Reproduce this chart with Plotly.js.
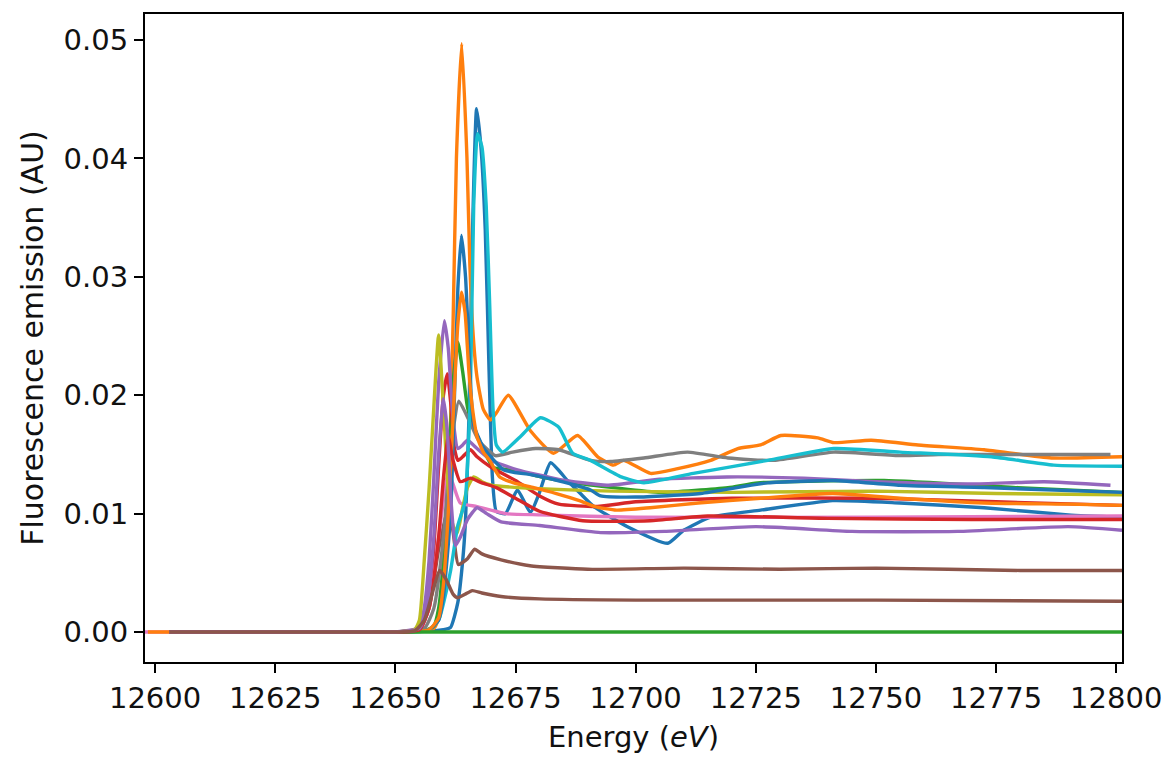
<!DOCTYPE html>
<html>
<head>
<meta charset="utf-8">
<script src="https://cdn.plot.ly/plotly-3.0.1.min.js"></script>
<style>html,body{margin:0;padding:0;background:#fff;}#chart{width:1165px;height:758px;}</style>
</head>
<body>
<div id="chart"></div>
<script>
// Series (draw order follows matplotlib tab10 cycle)
const blueA_E = [12603, 12630, 12645, 12650, 12658, 12660, 12661.5, 12663, 12664, 12664.6, 12665.3, 12666, 12666.9, 12667.8, 12668.7, 12669.5, 12670.2, 12671, 12672.9, 12675.4, 12678.1, 12680, 12682.3, 12685.8, 12688.5, 12691.3, 12698.3, 12706.7, 12710, 12715.6, 12726, 12741, 12755, 12772.5, 12790, 12801.2];
const blueA_V = [0, 0, 0, 0, 0.0001, 0.0002, 0.0004, 0.0025, 0.006, 0.0095, 0.018, 0.033, 0.0442, 0.041, 0.034, 0.022, 0.013, 0.0102, 0.0100, 0.0120, 0.0101, 0.0118, 0.0143, 0.0128, 0.0117, 0.0106, 0.0089, 0.0075, 0.0086, 0.0097, 0.0103, 0.0111, 0.0109, 0.0105, 0.0099, 0.0097];

const orangeA_E = [12603, 12630, 12645, 12650, 12658, 12659, 12660, 12661, 12662, 12662.7, 12663.8, 12664.9, 12665.5, 12666.2, 12667, 12668.3, 12669.8, 12671, 12673.5, 12678.1, 12682.9, 12687.9, 12692.1, 12695.4, 12697.5, 12703.1, 12708.75, 12715.6, 12721.25, 12726, 12730.2, 12737.9, 12741.25, 12749, 12758.75, 12772.5, 12786.5, 12801.2];
const orangeA_V = [0, 0, 0, 0, 0.0003, 0.0012, 0.004, 0.011, 0.026, 0.040, 0.0497, 0.040, 0.031, 0.025, 0.0215, 0.0188, 0.0179, 0.0185, 0.0200, 0.0170, 0.0151, 0.0166, 0.0148, 0.0141, 0.0145, 0.0134, 0.0138, 0.0145, 0.0155, 0.0158, 0.0166, 0.0164, 0.0160, 0.0162, 0.0158, 0.0154, 0.0147, 0.0148];

const greenA_E = [12603, 12630, 12645, 12650, 12656, 12658, 12659, 12660, 12661, 12662, 12663, 12664, 12665, 12666, 12667.1, 12670.4, 12674.6, 12680.2, 12687.1, 12695.4, 12705.2, 12719.2, 12725.4, 12751.7, 12779.6, 12801.2];
const greenA_V = [0, 0, 0, 0, 0.0001, 0.0005, 0.002, 0.006, 0.013, 0.021, 0.0245, 0.022, 0.019, 0.0175, 0.0165, 0.0139, 0.0137, 0.0131, 0.0126, 0.0122, 0.0118, 0.0122, 0.0126, 0.0128, 0.0122, 0.0118];

const redA_E = [12603, 12630, 12645, 12650, 12655, 12656, 12657, 12658, 12659, 12660, 12660.8, 12661.6, 12662.3, 12663, 12664, 12665.6, 12667, 12670, 12675, 12680, 12684, 12692, 12700, 12720, 12750, 12775, 12801.2];
const redA_V = [0, 0, 0, 0, 0.0002, 0.001, 0.003, 0.007, 0.014, 0.020, 0.0218, 0.019, 0.0155, 0.0145, 0.0148, 0.0154, 0.0148, 0.0139, 0.0128, 0.0115, 0.0108, 0.0106, 0.0110, 0.0113, 0.0113, 0.0110, 0.0107];

const purpleA_E = [12603, 12630, 12645, 12650, 12655, 12656, 12657, 12658, 12659, 12660.2, 12661, 12662, 12663, 12664, 12665, 12667, 12670, 12675.4, 12684, 12694, 12705, 12719, 12735, 12750, 12770, 12785, 12798.8];
const purpleA_V = [0, 0, 0, 0, 0.0004, 0.002, 0.006, 0.013, 0.021, 0.0263, 0.024, 0.018, 0.0155, 0.0158, 0.0162, 0.0155, 0.0145, 0.0137, 0.0129, 0.0124, 0.0129, 0.0131, 0.0130, 0.0127, 0.0125, 0.0127, 0.0124];

const brownA_E = [12603, 12630, 12645, 12650, 12655, 12657, 12659, 12661, 12662, 12663.1, 12665, 12666.5, 12668, 12672, 12678, 12690, 12710, 12730, 12750, 12780, 12801.2];
const brownA_V = [0, 0, 0, 0, 0.0002, 0.002, 0.007, 0.0105, 0.0085, 0.0057, 0.0062, 0.0070, 0.0066, 0.0061, 0.0056, 0.0053, 0.0054, 0.0053, 0.0054, 0.0052, 0.0052];

const pink_E = [12597.9, 12630, 12645, 12650, 12655, 12657, 12659, 12661, 12662, 12663.5, 12667, 12673, 12680, 12700, 12750, 12801.2];
const pink_V = [0, 0, 0, 0, 0.0002, 0.002, 0.008, 0.0135, 0.0125, 0.0109, 0.0106, 0.0100, 0.0099, 0.0097, 0.0097, 0.0098];

const gray_E = [12603, 12630, 12645, 12650, 12656, 12658, 12660, 12661, 12662, 12663.2, 12665.2, 12667.3, 12670.8, 12674.4, 12679.2, 12684, 12690.6, 12694.8, 12701.7, 12710.8, 12719.2, 12728.75, 12741.25, 12755.2, 12763, 12777, 12789, 12798.8];
const gray_V = [0, 0, 0, 0, 0.0003, 0.002, 0.008, 0.013, 0.017, 0.0195, 0.018, 0.0162, 0.0149, 0.0152, 0.0155, 0.0154, 0.0145, 0.0144, 0.0147, 0.0152, 0.0147, 0.0145, 0.0152, 0.0149, 0.0150, 0.0150, 0.0150, 0.0150];

const olive_E = [12603, 12630, 12645, 12650, 12654, 12655, 12656, 12657, 12658, 12659, 12660, 12661, 12662, 12662.9, 12664, 12665, 12666.3, 12668, 12670, 12680, 12695, 12720, 12750, 12775, 12801.2];
const olive_V = [0, 0, 0, 0, 0.0002, 0.001, 0.006, 0.012, 0.019, 0.0251, 0.019, 0.012, 0.009, 0.0084, 0.0105, 0.0122, 0.0131, 0.0127, 0.0124, 0.0121, 0.0119, 0.0118, 0.0119, 0.0117, 0.0116];

const cyan_E = [12603, 12630, 12645, 12650, 12657, 12659, 12660, 12661.5, 12663, 12664.5, 12665, 12665.6, 12666.3, 12667.1, 12668, 12668.9, 12669.6, 12670.3, 12671, 12672.3, 12676, 12680.2, 12684, 12686.9, 12690.6, 12697, 12701.7, 12712, 12727.5, 12741.25, 12755, 12774, 12787, 12801.2];
const cyan_V = [0, 0, 0, 0, 0.0002, 0.001, 0.0024, 0.0052, 0.009, 0.011, 0.014, 0.020, 0.036, 0.0421, 0.041, 0.036, 0.028, 0.019, 0.0158, 0.0152, 0.0165, 0.0181, 0.0173, 0.0151, 0.0145, 0.0131, 0.0126, 0.0134, 0.0145, 0.0155, 0.0152, 0.0148, 0.0141, 0.0140];

const blueB_E = [12603, 12630, 12645, 12650, 12657, 12659, 12660, 12661.5, 12662.3, 12663, 12663.75, 12664.6, 12665.5, 12666.3, 12668.3, 12672.5, 12678.1, 12683.75, 12690.6, 12692.7, 12700, 12713.5, 12727.5, 12741.25, 12755, 12772.5, 12801.2];
const blueB_V = [0, 0, 0, 0, 0.0002, 0.001, 0.003, 0.010, 0.020, 0.029, 0.0335, 0.030, 0.022, 0.0175, 0.0156, 0.0137, 0.0133, 0.0128, 0.0120, 0.0115, 0.0114, 0.0117, 0.0126, 0.0128, 0.0124, 0.0122, 0.0118];

const orangeB_E = [12598.5, 12630, 12645, 12650, 12657, 12659, 12660, 12661, 12662, 12663, 12663.75, 12664.5, 12665.3, 12666, 12667, 12668.3, 12669.6, 12671.7, 12674.6, 12678.8, 12683.5, 12688.3, 12691.5, 12696, 12703, 12713, 12726, 12741, 12755, 12772.5, 12790, 12801.2];
const orangeB_V = [0, 0, 0, 0, 0.0002, 0.0012, 0.004, 0.010, 0.018, 0.026, 0.0287, 0.027, 0.022, 0.019, 0.0165, 0.0152, 0.0145, 0.0131, 0.0126, 0.0122, 0.0117, 0.0111, 0.0106, 0.0103, 0.0105, 0.0109, 0.0113, 0.0117, 0.0113, 0.0109, 0.0108, 0.0107];

const greenB_E = [12603, 12801.2];
const greenB_V = [0, 0];

const redB_E = [12603, 12630, 12645, 12650, 12655, 12657, 12659, 12660, 12661, 12662, 12663.5, 12665.6, 12668, 12671, 12675, 12680, 12689, 12703, 12715, 12740, 12770, 12801.2];
const redB_V = [0, 0, 0, 0, 0.0002, 0.002, 0.008, 0.013, 0.0165, 0.0145, 0.0127, 0.0130, 0.0126, 0.0122, 0.0113, 0.0102, 0.0094, 0.0094, 0.0098, 0.0096, 0.0095, 0.0095];

const purpleB_E = [12603, 12630, 12645, 12650, 12655, 12656.5, 12658, 12659, 12660, 12660.8, 12661.6, 12662.5, 12663.5, 12665, 12667, 12669, 12672, 12680, 12692.7, 12706, 12725, 12745, 12767, 12790, 12801.2];
const purpleB_V = [0, 0, 0, 0, 0.0003, 0.002, 0.008, 0.015, 0.0197, 0.017, 0.011, 0.0073, 0.0080, 0.0095, 0.0105, 0.0100, 0.0093, 0.0090, 0.0084, 0.0085, 0.0089, 0.0085, 0.0085, 0.0089, 0.0086];

const brownB_E = [12603, 12630, 12645, 12650, 12654, 12656, 12657.5, 12659.2, 12660.5, 12662, 12662.9, 12664.5, 12666, 12668, 12672, 12680, 12700, 12750, 12801.2];
const brownB_V = [0, 0, 0, 0, 0.0001, 0.001, 0.003, 0.0052, 0.0045, 0.0032, 0.0029, 0.0032, 0.0035, 0.0033, 0.0030, 0.0028, 0.0027, 0.0027, 0.0026];

const xTickVals = [12600, 12625, 12650, 12675, 12700, 12725, 12750, 12775, 12800];
const yTickVals = [0, 0.01, 0.02, 0.03, 0.04, 0.05];

const seriesList = [
  [blueA_E, blueA_V, '#1f77b4'],
  [orangeA_E, orangeA_V, '#ff7f0e'],
  [greenA_E, greenA_V, '#2ca02c'],
  [redA_E, redA_V, '#d62728'],
  [purpleA_E, purpleA_V, '#9467bd'],
  [brownA_E, brownA_V, '#8c564b'],
  [pink_E, pink_V, '#e377c2'],
  [gray_E, gray_V, '#7f7f7f'],
  [olive_E, olive_V, '#bcbd22'],
  [cyan_E, cyan_V, '#17becf'],
  [blueB_E, blueB_V, '#1f77b4'],
  [orangeB_E, orangeB_V, '#ff7f0e'],
  [greenB_E, greenB_V, '#2ca02c'],
  [redB_E, redB_V, '#d62728'],
  [purpleB_E, purpleB_V, '#9467bd'],
  [brownB_E, brownB_V, '#8c564b']
];

const traces = seriesList.map(s => ({
  x: s[0], y: s[1], type: 'scatter', mode: 'lines',
  line: {color: s[2], width: 3.4, shape: 'spline', smoothing: 0.5},
  showlegend: false, hoverinfo: 'skip'
}));

const fontFam = 'DejaVu Sans, sans-serif';
const layout = {
  width: 1165, height: 758,
  margin: {l: 145, r: 43, t: 14, b: 96},
  paper_bgcolor: '#fff', plot_bgcolor: '#fff',
  font: {family: fontFam, size: 29, color: '#111'},
  xaxis: {
    range: [12597.9, 12801.2], tickvals: xTickVals, tickformat: 'd',
    ticks: 'outside', ticklen: 9, tickwidth: 2, tickcolor: '#000',
    showline: true, linecolor: '#000', linewidth: 2, mirror: true,
    showgrid: false, zeroline: false,
    tickfont: {family: fontFam, size: 29, color: '#111'},
    title: {text: 'Energy (<i>eV</i>)', font: {family: fontFam, size: 29, color: '#111'}, standoff: 13}
  },
  yaxis: {
    range: [-0.00253, 0.0522], tickvals: yTickVals, tickformat: '.2f',
    ticks: 'outside', ticklen: 9, tickwidth: 2, tickcolor: '#000',
    showline: true, linecolor: '#000', linewidth: 2, mirror: true,
    showgrid: false, zeroline: false,
    tickfont: {family: fontFam, size: 29, color: '#111'},
    title: {text: 'Fluorescence emission (AU)', font: {family: fontFam, size: 30, color: '#111'}, standoff: 11}
  }
};

Plotly.newPlot('chart', traces, layout, {staticPlot: true, displayModeBar: false});
</script>
</body>
</html>
